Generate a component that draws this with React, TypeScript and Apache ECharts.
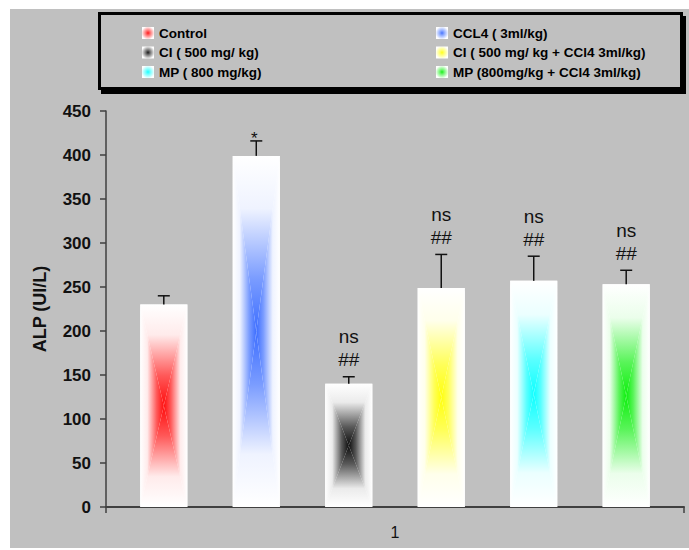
import React, { useEffect, useRef } from "react";
import * as echarts from "echarts";

const categories = ["1"];
const seriesNames = [
  "Control",
  "CCL4 ( 3ml/kg)",
  "CI ( 500 mg/ kg)",
  "CI ( 500 mg/ kg + CCl4 3ml/kg)",
  "MP ( 800 mg/kg)",
  "MP (800mg/kg + CCl4 3ml/kg)",
];
const meanValues = [230, 399, 140, 249, 257, 253];
const errorValues = [10, 17, 8, 38, 28, 16];
const annotationTop = ["", "*", "ns", "ns", "ns", "ns"];
const annotationBottom = ["", "", "##", "##", "##", "##"];
const colors = ["#ff0000", "#3366ff", "#000000", "#ffff00", "#00ffff", "#00ee00"];
const yTicks = { min: 0, max: 450, interval: 50 };
const yTitle = "ALP (UI/L)";
const legendLeftNames = [seriesNames[0], seriesNames[2], seriesNames[4]];
const legendRightNames = [seriesNames[1], seriesNames[3], seriesNames[5]];

const FONT = "'Liberation Sans', Arial, Helvetica, sans-serif";

function hexToRgb(h: string) {
  const n = parseInt(h.slice(1), 16);
  return [(n >> 16) & 255, (n >> 8) & 255, n & 255];
}
function mix(color: string, t: number) {
  const [r, g, b] = hexToRgb(color);
  const m = (c: number) => Math.round(255 + (c - 255) * t);
  return `rgb(${m(r)},${m(g)},${m(b)})`;
}
function grad(color: string, x: number, y: number, x2: number, y2: number) {
  return new echarts.graphic.LinearGradient(x, y, x2, y2, [
    { offset: 0, color: "#ffffff" },
    { offset: 0.3, color: mix(color, 0.08) },
    { offset: 0.7, color: mix(color, 0.65) },
    { offset: 1, color: mix(color, 0.95) },
  ]);
}
function legendIcon(color: string) {
  return {
    type: "radial",
    x: 0.5,
    y: 0.5,
    r: 0.55,
    colorStops: [
      { offset: 0, color: mix(color, 0.9) },
      { offset: 0.35, color: mix(color, 0.55) },
      { offset: 1, color: "#ffffff" },
    ],
  };
}

export default function App() {
  const ref = useRef<HTMLDivElement>(null);
  useEffect(() => {
    if (!ref.current) return;
    const chart = echarts.init(ref.current, undefined, { renderer: "svg" });

    const renderItem = (params: any, api: any) => {
      const i = params.seriesIndex;
      const catW = api.size([1, 0])[0];
      const base = api.coord([api.value(0), 0]);
      const top = api.coord([api.value(0), api.value(1)]);
      const errP = api.coord([api.value(0), api.value(2)]);
      const pitch = catW * 0.16;
      const bw = catW * 0.0815;
      const cx = base[0] + (i - 2.5) * pitch;
      const x0 = cx - bw / 2;
      const x1 = cx + bw / 2;
      const y0 = top[1];
      const y1 = base[1];
      const ym = (y0 + y1) / 2;
      const c = colors[i];
      const ey = errP[1];
      const children: any[] = [
        { type: "rect", shape: { x: x0, y: y0, width: bw, height: y1 - y0 }, style: { fill: "#ffffff" } },
        { type: "polygon", shape: { points: [[x0, y0], [cx, ym], [x0, y1]] }, style: { fill: grad(c, 0, 0, 1, 0) } },
        { type: "polygon", shape: { points: [[x1, y0], [cx, ym], [x1, y1]] }, style: { fill: grad(c, 1, 0, 0, 0) } },
        { type: "polygon", shape: { points: [[x0, y0], [x1, y0], [cx, ym]] }, style: { fill: grad(c, 0, 0, 0, 1) } },
        { type: "polygon", shape: { points: [[x0, y1], [x1, y1], [cx, ym]] }, style: { fill: grad(c, 0, 1, 0, 0) } },
        { type: "line", shape: { x1: cx, y1: y0, x2: cx, y2: ey }, style: { stroke: "#111", lineWidth: 1.5 } },
        { type: "line", shape: { x1: cx - 6, y1: ey, x2: cx + 6, y2: ey }, style: { stroke: "#111", lineWidth: 1.5 } },
      ];
      const bottomTxt = annotationBottom[i];
      const topTxt = annotationTop[i];
      if (bottomTxt) {
        children.push({
          type: "text",
          style: { text: bottomTxt, x: cx, y: ey - 17, align: "center", verticalAlign: "middle", fontSize: 19, fontFamily: FONT, fill: "#111" },
        });
        if (topTxt) {
          children.push({
            type: "text",
            style: { text: topTxt, x: cx, y: ey - 40, align: "center", verticalAlign: "middle", fontSize: 19, fontFamily: FONT, fill: "#111" },
          });
        }
      } else if (topTxt) {
        children.push({
          type: "text",
          style: { text: topTxt, x: cx - 2, y: ey - 2, align: "center", verticalAlign: "middle", fontSize: 17, fontFamily: FONT, fill: "#111" },
        });
      }
      return { type: "group", children };
    };

    const legendCommon = {
      orient: "vertical",
      top: 26,
      padding: 0,
      itemWidth: 12,
      itemHeight: 12,
      itemGap: 5.5,
      icon: "rect",
      selectedMode: false,
      textStyle: { fontSize: 13.5, fontWeight: "bold", color: "#000", fontFamily: FONT, lineHeight: 13 },
    };

    chart.setOption({
      animation: false,
      backgroundColor: "#ffffff",
      textStyle: { fontFamily: FONT },
      graphic: [
        { type: "rect", z: -10, silent: true, shape: { x: 10, y: 9, width: 679, height: 539 }, style: { fill: "#c0c0c0" } },
        { type: "rect", z: -9, silent: true, shape: { x: 101, y: 16, width: 585, height: 78 }, style: { fill: "#000000" } },
        { type: "rect", z: -8, silent: true, shape: { x: 99.5, y: 13.5, width: 582, height: 75 }, style: { fill: "#c0c0c0", stroke: "#000000", lineWidth: 3 } },
      ],
      legend: [
        {
          ...legendCommon,
          left: 142,
          data: legendLeftNames.map((n) => ({ name: n, itemStyle: { color: legendIcon(colors[seriesNames.indexOf(n)]) } })),
        },
        {
          ...legendCommon,
          left: 436,
          data: legendRightNames.map((n) => ({ name: n, itemStyle: { color: legendIcon(colors[seriesNames.indexOf(n)]) } })),
        },
      ],
      grid: { left: 106, right: 5, top: 111, bottom: 43, containLabel: false },
      xAxis: {
        type: "category",
        data: categories,
        axisLine: { lineStyle: { color: "#404040", width: 2 } },
        axisTick: { show: true, length: 6, lineStyle: { color: "#404040", width: 1.5 } },
        axisLabel: { fontSize: 16, color: "#111", margin: 17, fontFamily: FONT },
        splitLine: { show: false },
      },
      yAxis: {
        type: "value",
        min: yTicks.min,
        max: yTicks.max,
        interval: yTicks.interval,
        name: yTitle,
        nameLocation: "middle",
        nameRotate: 90,
        nameGap: 57,
        nameTextStyle: { fontSize: 18, fontWeight: "bold", color: "#111", fontFamily: FONT },
        axisLine: { show: true, lineStyle: { color: "#404040", width: 1.5 } },
        axisTick: { show: true, length: 6, lineStyle: { color: "#404040", width: 1.5 } },
        axisLabel: { fontSize: 17, fontWeight: "bold", color: "#111", margin: 15, fontFamily: FONT },
        splitLine: { show: false },
      },
      series: seriesNames.map((name, i) => ({
        type: "custom",
        name,
        renderItem,
        itemStyle: { color: colors[i] },
        encode: { x: 0, y: [1, 2] },
        data: [[0, meanValues[i], meanValues[i] + errorValues[i]]],
      })),
    });
    return () => chart.dispose();
  }, []);
  return <div ref={ref} style={{ position: "fixed", left: 0, top: 0, width: 689, height: 550 }} />;
}
